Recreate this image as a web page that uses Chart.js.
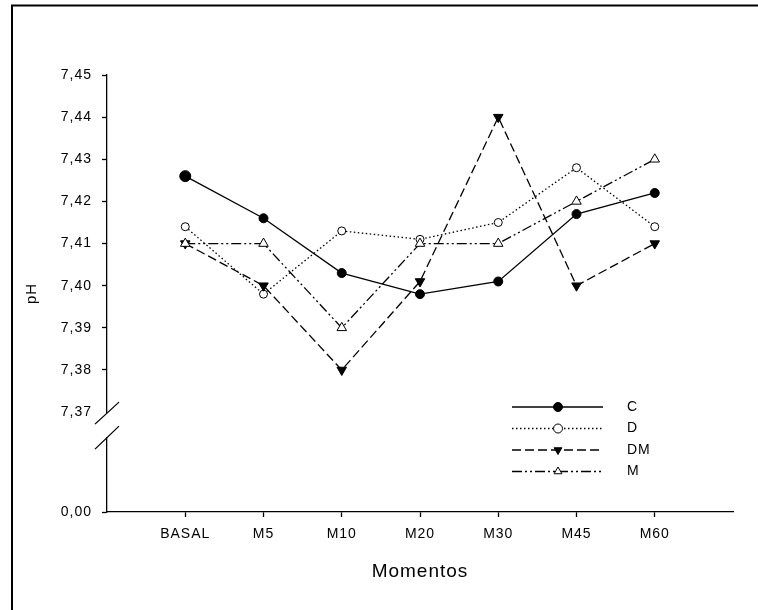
<!DOCTYPE html>
<html lang="es">
<head>
<meta charset="UTF-8">
<title>pH por momento</title>
<script src="https://cdn.jsdelivr.net/npm/chart.js"></script>
<style>
    body { margin: 0; background: #fff; }
    #grafico { display: block; }
</style>
</head>
<body>
<canvas id="grafico" width="758" height="610"></canvas>
<script>
// Datos: pH medio de cada grupo en cada momento
const momentos = ['BASAL', 'M5', 'M10', 'M20', 'M30', 'M45', 'M60'];
const grupos = ['C', 'D', 'DM', 'M'];
const phC  = [7.426, 7.416, 7.403, 7.398, 7.401, 7.417, 7.422];
const phD  = [7.414, 7.398, 7.413, 7.411, 7.415, 7.428, 7.414];
const phDM = [7.410, 7.400, 7.380, 7.401, 7.440, 7.400, 7.410];
const phM  = [7.410, 7.410, 7.390, 7.410, 7.410, 7.420, 7.430];

// Eje Y cortado: 0,00 abajo y luego de 7,37 a 7,45
const yTicks = [7.37, 7.38, 7.39, 7.40, 7.41, 7.42, 7.43, 7.44, 7.45];
const yCero = 7.3463;   // donde cae la marca 0,00 debajo del corte
const yCorte = 7.37;

Chart.defaults.font.family = '"Liberation Sans", Arial, sans-serif';
Chart.defaults.color = '#000';

const puntos = arr => arr.map((v, i) => ({ x: i, y: v }));

// orden: el menor se pinta encima
const estilo = {
    C:  { dash: [],                  forma: 'circle',   rot: 0,   relleno: '#000', radio: [5.5, 4.5, 4.5, 4.5, 4.5, 4.5, 4.5], orden: 0 },
    D:  { dash: [1.5, 2.5],          forma: 'circle',   rot: 0,   relleno: '#fff', radio: 4,   orden: 3 },
    DM: { dash: [9, 4],              forma: 'triangle', rot: 180, relleno: '#000', radio: 5.5, orden: 2 },
    M:  { dash: [10, 3, 2, 3, 2, 3], forma: 'triangle', rot: 0,   relleno: '#fff', radio: 5.5, orden: 1 }
};
const series = [phC, phD, phDM, phM];

const datasets = grupos.map((g, i) => ({
    label: g,
    data: puntos(series[i]),
    order: estilo[g].orden,
    borderColor: '#000',
    borderWidth: 1.3,
    borderDash: estilo[g].dash,
    tension: 0,
    pointStyle: estilo[g].forma,
    pointRotation: estilo[g].rot,
    pointRadius: estilo[g].radio,
    pointBackgroundColor: estilo[g].relleno,
    pointBorderColor: '#000',
    pointBorderWidth: 1
}));

// Leyenda dibujada a mano: linea con su marcador en el centro
const leyenda = {
    id: 'leyenda',
    afterDatasetsDraw(chart) {
        const ctx = chart.ctx;
        chart.data.datasets.forEach((ds, i) => {
            const y = 407 + i * 21.5;
            ctx.save();
            ctx.strokeStyle = '#000';
            ctx.lineWidth = 1.3;
            ctx.setLineDash(ds.borderDash);
            ctx.beginPath();
            ctx.moveTo(512, y);
            ctx.lineTo(603, y);
            ctx.stroke();
            ctx.setLineDash([]);
            ctx.fillStyle = ds.pointBackgroundColor;
            ctx.lineWidth = 1;
            Chart.helpers.drawPoint(ctx, {
                pointStyle: ds.pointStyle, rotation: ds.pointRotation, radius: 4.5, borderWidth: 1
            }, 558, y);
            ctx.fillStyle = '#000';
            ctx.font = '14px "Liberation Sans", Arial, sans-serif';
            ctx.textBaseline = 'middle';
            ctx.fillText(ds.label, 627, y);
            ctx.restore();
        });
    }
};

// Corte del eje Y y marco de la figura
const corte = {
    id: 'corte',
    beforeDraw(chart) {
        chart.ctx.letterSpacing = '1px';
    },
    afterDraw(chart) {
        const ctx = chart.ctx;
        const x0 = chart.chartArea.left;
        const y0 = chart.scales.y.getPixelForValue(yCorte);
        ctx.save();
        ctx.fillStyle = '#fff';
        ctx.fillRect(x0 - 3, y0 + 1, 6, 24);
        ctx.strokeStyle = '#000';
        ctx.lineWidth = 1.3;
        ctx.beginPath();
        ctx.moveTo(x0 - 12, y0 + 12); ctx.lineTo(x0 + 12, y0 - 10);
        ctx.moveTo(x0 - 12, y0 + 37); ctx.lineTo(x0 + 12, y0 + 14);
        ctx.stroke();
        ctx.lineWidth = 2;
        ctx.beginPath();
        ctx.moveTo(12, 610); ctx.lineTo(12, 5.5); ctx.lineTo(758, 5.5);
        ctx.stroke();
        ctx.restore();
    }
};

new Chart(document.getElementById('grafico'), {
    type: 'line',
    data: { datasets },
    options: {
        responsive: false,
        animation: false,
        layout: { padding: { top: 75, right: 25, left: 0, bottom: 0 } },
        plugins: { legend: { display: false }, tooltip: { enabled: false } },
        scales: {
            x: {
                type: 'linear',
                min: -1,
                max: 7,
                afterBuildTicks: s => { s.ticks = momentos.map((m, i) => ({ value: i })); },
                afterFit: s => { s.height = 98; },
                ticks: {
                    callback: v => momentos[v],
                    padding: 9,
                    font: { size: 14 }
                },
                grid: { drawOnChartArea: false, tickLength: 5, tickColor: '#000', tickWidth: 1.3 },
                border: { color: '#000', width: 1.3 },
                title: { display: true, text: 'Momentos', font: { size: 19 }, padding: { bottom: 27 } }
            },
            y: {
                min: yCero,
                max: 7.45,
                afterBuildTicks: s => { s.ticks = [yCero, ...yTicks].map(v => ({ value: v })); },
                afterFit: s => { s.width = 107; },
                ticks: {
                    callback: v => v === yCero ? '0,00' : v.toFixed(2).replace('.', ','),
                    padding: 10,
                    font: { size: 14 }
                },
                grid: {
                    drawOnChartArea: false,
                    tickLength: 5,
                    tickWidth: 1.3,
                    tickColor: c => c.index === 1 ? 'rgba(0,0,0,0)' : '#000'
                },
                border: { color: '#000', width: 1.3 },
                title: { display: true, text: 'pH', font: { size: 15 }, padding: { top: 23 } }
            }
        }
    },
    plugins: [leyenda, corte]
});
</script>
</body>
</html>
